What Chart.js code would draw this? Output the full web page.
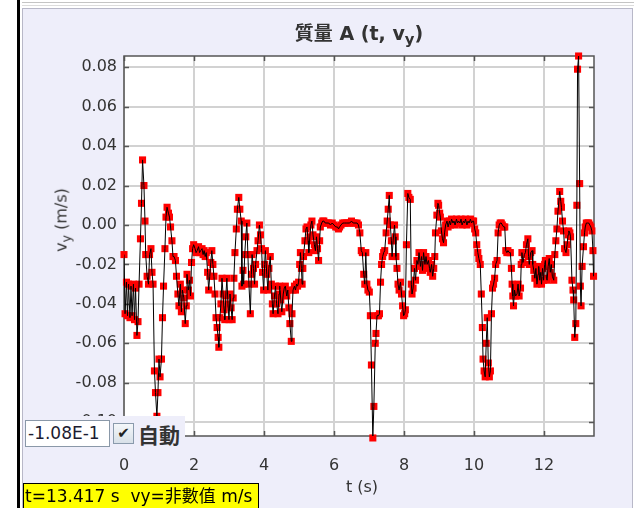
<!DOCTYPE html>
<html>
<head>
<meta charset="utf-8">
<script src="https://cdn.jsdelivr.net/npm/chart.js@4.4.1/dist/chart.umd.min.js"></script>
<style>
  body { margin: 0; width: 641px; height: 508px; overflow: hidden; background: #fff; position: relative;
         font-family: "DejaVu Sans", "Noto Sans CJK TC", sans-serif; }
  .abs { position: absolute; }
  #bar { left: 17px; top: 0; width: 3px; height: 508px; background: #000; }
  #topline { left: 22px; top: 2px; width: 612px; height: 2px; border-top: 1px solid #c4c4c4; border-bottom: 1px solid #dcdcdc; }
  #panel { left: 22px; top: 8px; width: 611px; height: 500px; background: #eeeefa; border: 1px solid #b8b8c8; border-bottom: none; box-sizing: border-box; }
  #chart { left: 0; top: 0; }
  #title { left: 124px; width: 470px; top: 18px; text-align: center; font-size: 19px; font-weight: bold; color: #333;
           font-family: "DejaVu Sans", "Noto Sans CJK TC", sans-serif; }
  #title sub, #ytitle sub { font-size: 78%; vertical-align: -0.3em; line-height: 0; }
  #ytitle { left: 61px; top: 220px; transform: translate(-50%, -50%) rotate(-90deg); white-space: nowrap; font-size: 16px; color: #333; }
  #xtitle { left: 124px; width: 476px; top: 477px; text-align: center; font-size: 16px; color: #333; }
  #widget { left: 23px; top: 416px; width: 162px; height: 33px; background: #eeeefa; }
  #minbox { left: 25px; top: 420px; width: 85px; height: 27px; background: #fff; border: 1px solid #8a98a8; box-sizing: border-box;
            font-size: 17px; line-height: 25px; padding-left: 2px; color: #1c1c30; white-space: nowrap; overflow: hidden; }
  #check { left: 113px; top: 423px; width: 21px; height: 21px; border: 1px solid #8a9aac; box-sizing: border-box;
           background: linear-gradient(#f4f7fa, #d8e0e8); font-size: 15px; line-height: 19px; text-align: center; color: #222; }
  #auto { left: 138px; top: 421px; font-size: 21px; font-weight: bold; color: #333; line-height: 26px;
          font-family: "Noto Sans CJK TC", sans-serif; }
  #status { left: 23px; top: 483px; width: 236px; height: 26px; background: #ffff00; border: 1px solid #000; box-sizing: border-box;
            font-size: 17px; line-height: 24px; padding-left: 1px; color: #000; white-space: nowrap; overflow: hidden;
            font-family: "DejaVu Sans", "Noto Sans CJK TC", sans-serif; }
</style>
</head>
<body>
<div id="bar" class="abs"></div>
<div id="topline" class="abs"></div>
<div id="panel" class="abs"></div>
<canvas id="chart" class="abs" width="641" height="508"></canvas>
<div id="title" class="abs">質量 A (t, v<sub>y</sub>)</div>
<div id="ytitle" class="abs">v<sub>y</sub> (m/s)</div>
<div id="xtitle" class="abs">t (s)</div>
<div id="widget" class="abs"></div>
<div id="minbox" class="abs">-1.08E-1</div>
<div id="check" class="abs">✔</div>
<div id="auto" class="abs">自動</div>
<div id="status" class="abs">t=13.417 s&nbsp; vy=非數值 m/s</div>
<script>
// time (s)
const times = [
  0.00, 0.03, 0.07, 0.10, 0.13, 0.17, 0.20, 0.23, 0.27, 0.30,
  0.33, 0.37, 0.40, 0.43, 0.47, 0.50, 0.53, 0.57, 0.60, 0.62,
  0.66, 0.70, 0.73, 0.77, 0.80, 0.83, 0.87, 0.90, 0.94, 0.97,
  1.00, 1.03, 1.07, 1.10, 1.13, 1.17, 1.20, 1.23, 1.27, 1.30,
  1.33, 1.37, 1.40, 1.43, 1.47, 1.50, 1.54, 1.57, 1.61, 1.64,
  1.67, 1.71, 1.75, 1.78, 1.80, 1.84, 1.87, 1.90, 1.93, 1.96,
  1.99, 2.03, 2.06, 2.09, 2.13, 2.16, 2.19, 2.23, 2.26, 2.29,
  2.32, 2.35, 2.39, 2.42, 2.45, 2.48, 2.51, 2.54, 2.57, 2.60,
  2.63, 2.66, 2.69, 2.71, 2.74, 2.77, 2.80, 2.83, 2.86, 2.88,
  2.91, 2.94, 2.97, 3.00, 3.03, 3.06, 3.09, 3.12, 3.14, 3.17,
  3.21, 3.24, 3.28, 3.31, 3.35, 3.37, 3.40, 3.42, 3.45, 3.48,
  3.51, 3.54, 3.57, 3.61, 3.64, 3.66, 3.70, 3.73, 3.76, 3.80,
  3.83, 3.87, 3.90, 3.93, 3.96, 3.99, 4.02, 4.04, 4.08, 4.11,
  4.14, 4.18, 4.21, 4.24, 4.26, 4.30, 4.33, 4.36, 4.40, 4.43,
  4.45, 4.48, 4.51, 4.55, 4.58, 4.61, 4.65, 4.68, 4.71, 4.74,
  4.78, 4.80, 4.83, 4.87, 4.90, 4.93, 4.96, 4.99, 5.02, 5.04,
  5.07, 5.09, 5.11, 5.13, 5.17, 5.20, 5.23, 5.26, 5.28, 5.31,
  5.34, 5.37, 5.40, 5.44, 5.47, 5.50, 5.53, 5.56, 5.59, 5.61,
  5.65, 5.68, 5.71, 5.75, 5.80, 5.85, 5.90, 5.95, 6.00, 6.05,
  6.10, 6.13, 6.16, 6.20, 6.25, 6.30, 6.35, 6.40, 6.45, 6.50,
  6.55, 6.60, 6.66, 6.70, 6.74, 6.78, 6.81, 6.85, 6.88, 6.91,
  6.94, 6.97, 7.01, 7.04, 7.07, 7.11, 7.14, 7.18, 7.20, 7.23,
  7.27, 7.30, 7.33, 7.36, 7.39, 7.42, 7.45, 7.49, 7.52, 7.55,
  7.58, 7.61, 7.64, 7.66, 7.69, 7.73, 7.75, 7.77, 7.80, 7.83,
  7.86, 7.90, 7.93, 7.96, 7.99, 8.02, 8.04, 8.07, 8.11, 8.14,
  8.18, 8.21, 8.23, 8.26, 8.30, 8.33, 8.37, 8.40, 8.43, 8.47,
  8.50, 8.53, 8.56, 8.60, 8.63, 8.66, 8.70, 8.73, 8.75, 8.79,
  8.82, 8.85, 8.88, 8.90, 8.94, 8.97, 8.99, 9.02, 9.04, 9.07,
  9.10, 9.13, 9.16, 9.19, 9.23, 9.26, 9.30, 9.33, 9.36, 9.40,
  9.43, 9.46, 9.50, 9.53, 9.56, 9.60, 9.63, 9.66, 9.70, 9.73,
  9.76, 9.80, 9.83, 9.86, 9.90, 9.93, 9.96, 9.99, 10.02, 10.05,
  10.08, 10.11, 10.14, 10.18, 10.21, 10.24, 10.26, 10.29, 10.32, 10.35,
  10.38, 10.41, 10.44, 10.47, 10.50, 10.53, 10.56, 10.59, 10.62, 10.66,
  10.69, 10.72, 10.75, 10.78, 10.81, 10.85, 10.88, 10.91, 10.94, 10.97,
  11.01, 11.04, 11.07, 11.09, 11.11, 11.13, 11.16, 11.19, 11.23, 11.26,
  11.29, 11.33, 11.35, 11.37, 11.40, 11.44, 11.47, 11.50, 11.54, 11.56,
  11.58, 11.62, 11.66, 11.68, 11.71, 11.74, 11.77, 11.80, 11.83, 11.85,
  11.88, 11.91, 11.93, 11.96, 11.99, 12.02, 12.04, 12.07, 12.09, 12.12,
  12.15, 12.18, 12.21, 12.24, 12.28, 12.31, 12.34, 12.37, 12.40, 12.45,
  12.48, 12.50, 12.53, 12.56, 12.59, 12.63, 12.66, 12.69, 12.71, 12.74,
  12.76, 12.80, 12.83, 12.85, 12.88, 12.91, 12.94, 12.96, 12.99, 13.02,
  13.04, 13.06, 13.09, 13.13, 13.16, 13.18, 13.21, 13.25, 13.28, 13.31,
  13.34, 13.37, 13.40, 13.417
]

// vy (m/s)
const vy = [
  -0.015, -0.045, -0.029, -0.046, -0.030, -0.047, -0.031, -0.046, -0.030, -0.048,
  -0.032, -0.056, -0.049, -0.030, -0.007, 0.011, 0.033, 0.020, 0.002, -0.015,
  -0.026, -0.030, -0.015, -0.012, -0.024, -0.030, -0.074, -0.085, -0.097, -0.085,
  -0.068, -0.077, -0.068, -0.047, -0.031, -0.012, 0.004, 0.009, 0.006, 0.004,
  -0.001, -0.008, -0.016, -0.016, -0.018, -0.026, -0.035, -0.041, -0.030, -0.044,
  -0.033, -0.037, -0.050, -0.041, -0.025, -0.033, -0.028, -0.036, -0.019, -0.012,
  -0.010, -0.012, -0.014, -0.013, -0.011, -0.014, -0.013, -0.012, -0.015, -0.013,
  -0.016, -0.014, -0.024, -0.033, -0.026, -0.019, -0.013, -0.020, -0.026, -0.035,
  -0.047, -0.052, -0.057, -0.062, -0.047, -0.040, -0.027, -0.035, -0.043, -0.048,
  -0.036, -0.027, -0.040, -0.048, -0.035, -0.042, -0.048, -0.037, -0.027, -0.014,
  -0.002, 0.008, 0.014, 0.008, 0.002, -0.031, -0.023, -0.030, -0.015, -0.006,
  0.001, -0.015, -0.030, -0.045, -0.025, -0.015, -0.022, -0.030, -0.020, -0.013,
  -0.008, 0.000, -0.005, -0.012, -0.024, -0.033, -0.020, -0.013, -0.025, -0.033,
  -0.022, -0.016, -0.030, -0.040, -0.045, -0.036, -0.031, -0.040, -0.045, -0.035,
  -0.031, -0.038, -0.044, -0.035, -0.032, -0.031, -0.036, -0.033, -0.042, -0.050,
  -0.059, -0.045, -0.033, -0.031, -0.033, -0.030, -0.031, -0.029, -0.020, -0.014,
  -0.022, -0.030, -0.022, -0.016, -0.008, -0.002, -0.001, -0.008, -0.014, -0.006,
  0.000, 0.002, -0.005, -0.010, -0.013, -0.006, -0.012, -0.018, -0.008, -0.001,
  0.001, 0.002, 0.002, 0.001, 0.001, 0.001, 0.000, 0.001, 0.000, -0.001,
  -0.001, -0.002, -0.001, 0.000, 0.001, 0.001, 0.001, 0.001, 0.001, 0.002,
  0.001, 0.001, 0.001, 0.000, -0.004, -0.013, -0.014, -0.025, -0.030, -0.014,
  -0.030, -0.033, -0.034, -0.046, -0.071, -0.108, -0.092, -0.060, -0.055, -0.046,
  -0.046, -0.045, -0.029, -0.020, -0.016, -0.014, -0.013, -0.004, 0.002, 0.008,
  0.015, 0.000, -0.008, -0.016, -0.008, 0.000, -0.006, -0.016, -0.022, -0.030,
  -0.033, -0.029, -0.035, -0.041, -0.046, -0.045, -0.043, -0.010, 0.016, 0.014,
  0.013, -0.030, -0.035, -0.032, -0.022, -0.028, -0.018, -0.020, -0.014, -0.021,
  -0.016, -0.023, -0.014, -0.020, -0.016, -0.020, -0.018, -0.022, -0.024, -0.020,
  -0.026, -0.022, -0.016, -0.004, 0.005, 0.011, 0.010, 0.006, 0.004, -0.003,
  -0.007, -0.009, -0.004, 0.000, 0.002, -0.001, 0.002, 0.000, 0.003, 0.001,
  0.002, 0.000, 0.003, 0.001, 0.002, 0.001, 0.003, 0.000, 0.002, 0.001,
  0.003, 0.000, 0.002, 0.001, 0.003, 0.001, 0.002, 0.002, -0.002, -0.004,
  -0.010, -0.014, -0.017, -0.020, -0.035, -0.052, -0.068, -0.074, -0.077, -0.060,
  -0.047, -0.070, -0.077, -0.074, -0.045, -0.032, -0.030, -0.027, -0.020, -0.018,
  -0.004, 0.000, 0.001, 0.001, 0.000, -0.001, -0.001, -0.013, -0.014, -0.013,
  -0.014, -0.014, -0.022, -0.030, -0.036, -0.041, -0.033, -0.036, -0.035, -0.030,
  -0.036, -0.032, -0.020, -0.014, -0.019, -0.015, -0.014, -0.010, -0.007, -0.016,
  -0.020, -0.014, -0.013, -0.020, -0.023, -0.027, -0.022, -0.030, -0.025, -0.021,
  -0.028, -0.024, -0.030, -0.022, -0.028, -0.020, -0.018, -0.027, -0.028, -0.021,
  -0.017, -0.024, -0.020, -0.026, -0.028, -0.015, -0.008, -0.002, 0.007, 0.017,
  0.012, 0.009, 0.002, -0.003, -0.012, -0.014, -0.010, -0.005, -0.003, -0.004,
  -0.006, -0.028, -0.033, -0.038, -0.057, -0.050, 0.010, 0.079, 0.0857, 0.021,
  -0.031, -0.041, -0.021, -0.011, -0.004, -0.001, 0.001, 0.001, 0.001, 0.000,
  -0.001, -0.003, -0.013, -0.026
]

const xTickValues = [0, 2, 4, 6, 8, 10, 12]
const yTickValues = [0.08, 0.06, 0.04, 0.02, 0.00, -0.02, -0.04, -0.06, -0.08, -0.10]

const points = times.map((t, i) => ({ x: t, y: vy[i] }))

const frame = {
  id: "frame",
  beforeDraw(chart) {
    const { ctx, chartArea: a } = chart
    ctx.save()
    ctx.fillStyle = "#fff"
    ctx.fillRect(a.left, a.top, a.right - a.left, a.bottom - a.top)
    ctx.restore()
  },
  beforeDatasetsDraw(chart) {
    const { ctx, chartArea: a, scales } = chart
    ctx.save()
    ctx.strokeStyle = "#555"
    ctx.lineWidth = 1.5
    ctx.strokeRect(a.left, a.top, a.right - a.left, a.bottom - a.top)
    ctx.beginPath()
    xTickValues.forEach(v => {
      const px = Math.round(scales.x.getPixelForValue(v)) + 0.5
      ctx.moveTo(px, a.top); ctx.lineTo(px, a.top + 5)
      ctx.moveTo(px, a.bottom); ctx.lineTo(px, a.bottom - 5)
    })
    yTickValues.forEach(v => {
      const py = Math.round(scales.y.getPixelForValue(v)) + 0.5
      ctx.moveTo(a.left, py); ctx.lineTo(a.left + 5, py)
      ctx.moveTo(a.right, py); ctx.lineTo(a.right - 5, py)
    })
    ctx.stroke()
    ctx.restore()
  }
}

const tickFont = { family: "'DejaVu Sans', sans-serif", size: 16 }

new Chart(document.getElementById("chart"), {
  type: "scatter",
  data: {
    datasets: [
      {
        data: points,
        showLine: true,
        borderColor: "#000",
        borderWidth: 1,
        pointRadius: 0,
        tension: 0
      },
      {
        data: points,
        showLine: false,
        pointStyle: "rect",
        pointRadius: 5,
        backgroundColor: "#ff0000",
        borderWidth: 0,
        clip: false
      }
    ]
  },
  options: {
    responsive: false,
    animation: false,
    devicePixelRatio: 1,
    layout: { padding: { left: 70, top: 56, right: 47, bottom: 32 } },
    plugins: { legend: { display: false }, tooltip: { enabled: false } },
    scales: {
      x: {
        type: "linear",
        min: 0,
        max: 13.43,
        afterFit: s => { s.height = 40 },
        afterBuildTicks: s => { s.ticks = xTickValues.map(v => ({ value: v })) },
        grid: { color: "#d2d2d2", lineWidth: 2, drawTicks: false },
        border: { display: false },
        ticks: { color: "#333", font: tickFont, padding: 20, callback: v => String(v) }
      },
      y: {
        type: "linear",
        min: -0.107,
        max: 0.0857,
        afterFit: s => { s.width = 54 },
        afterBuildTicks: s => { s.ticks = yTickValues.map(v => ({ value: v })) },
        grid: { color: "#d2d2d2", lineWidth: 2, drawTicks: false },
        border: { display: false },
        ticks: { color: "#333", font: tickFont, padding: 7,
                 callback: v => (Math.abs(v) < 1e-9 ? 0 : v).toFixed(2) }
      }
    }
  },
  plugins: [frame]
})
</script>
</body>
</html>
